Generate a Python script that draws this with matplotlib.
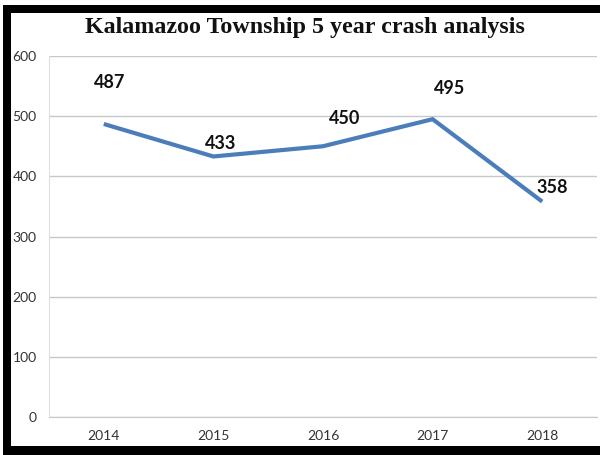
import matplotlib
matplotlib.use("Agg")
import matplotlib.pyplot as plt
from matplotlib.patches import Rectangle

# ── Data ──────────────────────────────────────────────────────────────────────
YEARS   = ["2014", "2015", "2016", "2017", "2018"]
CRASHES = [487, 433, 450, 495, 358]
Y_TICKS = [0, 100, 200, 300, 400, 500, 600]
TITLE   = "Kalamazoo Township 5 year crash analysis"

# label offsets in pixels (dx, dy) – styling only
LABEL_OFFSETS = [(6, 41), (7, 13), (22, 28), (17, 31), (10, 14)]
# ─────────────────────────────────────────────────────────────────────────────

W, H = 600, 455
fig = plt.figure(figsize=(W / 100, H / 100), dpi=100)
fig.patch.set_facecolor("white")

ax = fig.add_axes([49 / W, 1 - 417 / H, (597 - 49) / W, (417 - 56) / H])
x = list(range(len(YEARS)))

ax.plot(x, CRASHES, color="#4a7dba", linewidth=3.0, solid_capstyle="butt",
        solid_joinstyle="miter", zorder=3)

for xi, v, (dx, dy) in zip(x, CRASHES, LABEL_OFFSETS):
    ax.annotate(str(v), (xi, v), xytext=(dx, dy), textcoords="offset pixels",
                ha="center", va="center", fontsize=13, fontweight="bold",
                family="Lato", color="#111111")

ax.set_xlim(-0.5, len(YEARS) - 0.5)
ax.set_ylim(0, 600)
ax.set_xticks(x)
ax.set_xticklabels(YEARS)
ax.set_yticks(Y_TICKS)
ax.tick_params(axis="both", length=0, labelsize=10, labelcolor="#333333")
ax.tick_params(axis="y", pad=9)     # points
ax.tick_params(axis="x", pad=9)
for lab in ax.get_xticklabels() + ax.get_yticklabels():
    lab.set_family("Lato")

ax.grid(axis="y", color="#c8c8c8", linewidth=1)
ax.set_axisbelow(True)
for side in ["top", "right"]:
    ax.spines[side].set_visible(False)
ax.spines["left"].set_color("#e0e0e0")
ax.spines["bottom"].set_color("#c8c8c8")

fig.text(305 / W, 1 - 27 / H, TITLE, ha="center", va="center",
         fontsize=17.3, fontweight="bold", family="Liberation Serif", color="#111111")

# black frame around the picture (left, top, bottom)
for (x0, y0, w, h) in [(3, 5, 8, 450), (3, 5, W - 3, 8), (3, 446, W - 3, 9)]:
    fig.add_artist(Rectangle((x0 / W, 1 - (y0 + h) / H), w / W, h / H,
                             transform=fig.transFigure, facecolor="black",
                             edgecolor="none", zorder=10))

fig.savefig("out.png", dpi=100)
